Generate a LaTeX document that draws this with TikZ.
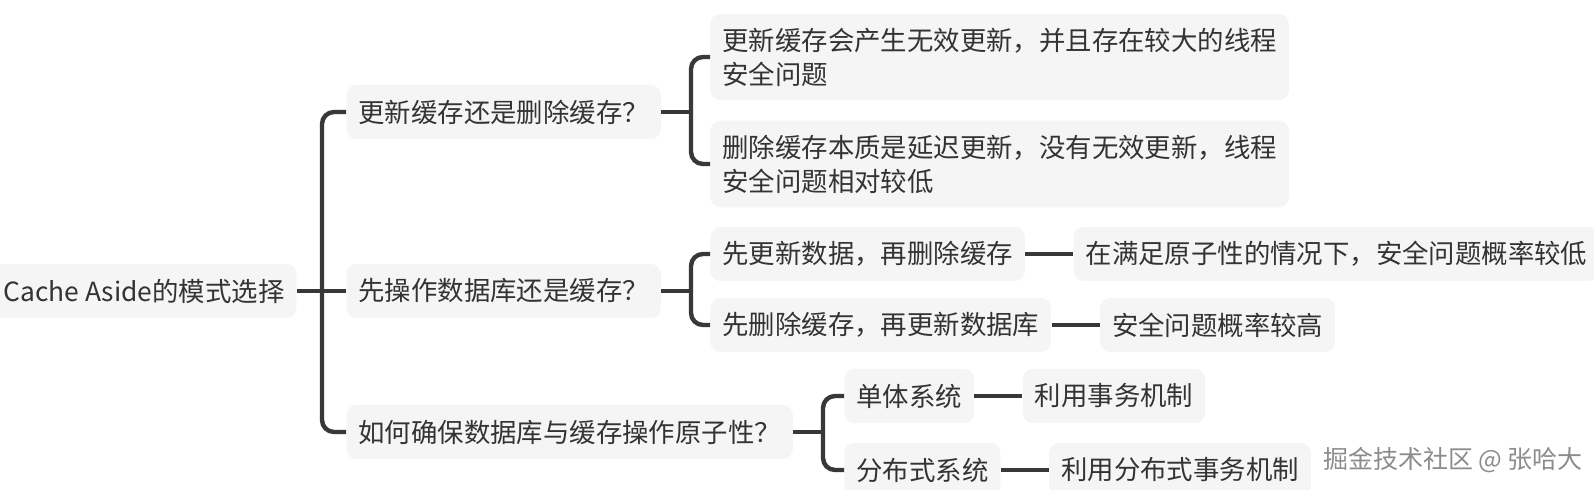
\documentclass[tikz,border=0pt]{standalone}
\usepackage{fontspec}
\setmainfont{Noto Sans CJK SC}
\usetikzlibrary{positioning}
\definecolor{ink}{HTML}{333333}
\definecolor{boxgray}{HTML}{F5F5F5}
\definecolor{linegray}{HTML}{383838}
\definecolor{markgray}{HTML}{8C8C8C}
\tikzset{
  topic/.style={rounded corners=5pt,fill=boxgray,text=ink,font=\fontsize{13.2}{17}\selectfont,inner xsep=6pt,inner ysep=7pt,minimum height=27pt,anchor=west,align=left},
  link/.style={draw=linegray,line width=2.2pt},
  branch/.style={link,rounded corners=6pt},
  watermark/.style={font=\fontsize{12.5}{14}\selectfont,text=markgray,anchor=west}
}

\begin{document}
\begin{tikzpicture}[x=0.5pt,y=-0.5pt]
\path[use as bounding box] (0,0) rectangle (1594,490);

% root and first level
\node[topic] (root) at (-9,291) {Cache Aside的模式选择};
\node[topic] (upd) at (346,112) {更新缓存还是删除缓存？};
\node[topic] (ord) at (346,291) {先操作数据库还是缓存？};
\node[topic] (atom) at (346,432) {如何确保数据库与缓存操作原子性？};
\coordinate (rootbar) at (322,291);
\draw[link] (root.east) -- (ord.west);
\draw[branch] (upd.west) -| (rootbar) |- (atom.west);

% update or delete
\node[topic] (updA) at (710,57) {更新缓存会产生无效更新，并且存在较大的线程\\安全问题};
\node[topic] (updB) at (710,164) {删除缓存本质是延迟更新，没有无效更新，线程\\安全问题相对较低};
\coordinate (updbar) at (691,112);
\draw[link] (upd.east) -- (updbar);
\draw[branch] (updA.west) -| (updbar) |- (updB.west);

% order of operations
\node[topic] (ordA) at (710,254) {先更新数据，再删除缓存};
\node[topic] (ordB) at (710,325) {先删除缓存，再更新数据库};
\node[topic,right=24pt of ordA] (ordAres) {在满足原子性的情况下，安全问题概率较低};
\node[topic,right=24pt of ordB] (ordBres) {安全问题概率较高};
\coordinate (ordbar) at (691,291);
\draw[link] (ord.east) -- (ordbar);
\draw[branch] (ordA.west) -| (ordbar) |- (ordB.west);
\draw[link] (ordA) -- (ordAres);
\draw[link] (ordB) -- (ordBres);

% atomicity
\node[topic] (atomA) at (844,396) {单体系统};
\node[topic] (atomB) at (844,470) {分布式系统};
\node[topic,right=24pt of atomA] (atomAres) {利用事务机制};
\node[topic,right=24pt of atomB] (atomBres) {利用分布式事务机制};
\coordinate (atombar) at (823,432);
\draw[link] (atom.east) -- (atombar);
\draw[branch] (atomA.west) -| (atombar) |- (atomB.west);
\draw[link] (atomA) -- (atomAres);
\draw[link] (atomB) -- (atomBres);

\node[watermark] (mark) at (1316,460) {掘金技术社区 @ 张哈大};
\end{tikzpicture}
\end{document}
